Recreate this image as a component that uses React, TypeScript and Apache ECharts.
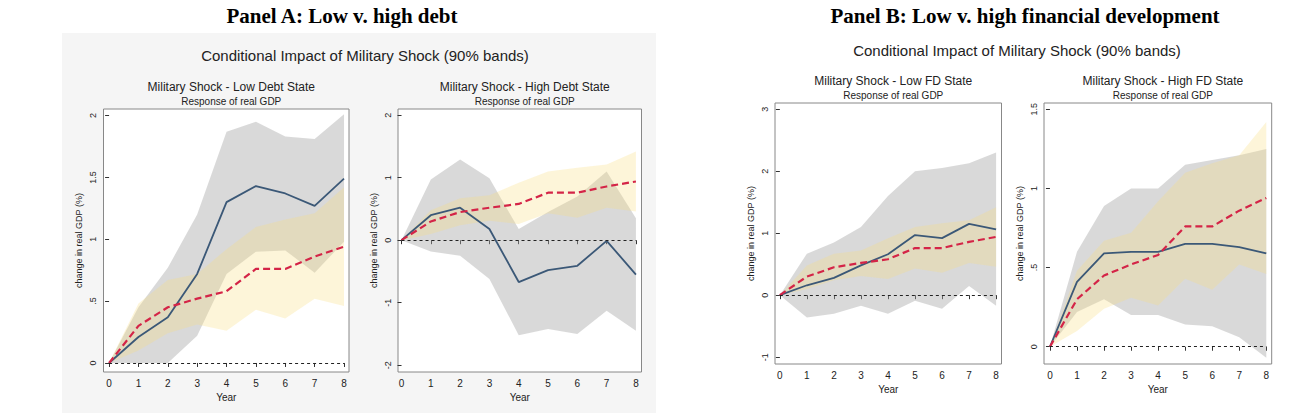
import { useEffect, useRef } from "react";
import * as echarts from "echarts";

const years = [0, 1, 2, 3, 4, 5, 6, 7, 8];

// red dashed line (same in every panel) and its yellow band
const linearResp = [0, 0.3, 0.45, 0.52, 0.58, 0.76, 0.76, 0.86, 0.94];
const linearUpper = [0, 0.48, 0.67, 0.72, 0.92, 1.1, 1.16, 1.21, 1.42];
const linearLower = [0, 0.1, 0.24, 0.31, 0.26, 0.43, 0.36, 0.52, 0.46];

const lowDebtResp = [0, 0.21, 0.37, 0.72, 1.3, 1.43, 1.37, 1.27, 1.49];
const lowDebtUpper = [0, 0.45, 0.77, 1.2, 1.87, 1.95, 1.83, 1.81, 2.01];
const lowDebtLower = [0, 0, 0, 0.22, 0.72, 0.9, 0.91, 0.73, 0.98];

const highDebtResp = [0, 0.4, 0.52, 0.18, -0.67, -0.48, -0.41, -0.01, -0.55];
const highDebtUpper = [0, 0.97, 1.29, 0.99, 0.18, 0.45, 0.7, 1.1, 0.35];
const highDebtLower = [0, -0.18, -0.25, -0.62, -1.52, -1.42, -1.5, -1.13, -1.45];

const lowFdResp = [0, 0.16, 0.28, 0.48, 0.66, 0.97, 0.92, 1.15, 1.06];
const lowFdUpper = [0, 0.67, 0.85, 1.1, 1.6, 2.0, 2.05, 2.13, 2.3];
const lowFdLower = [0, -0.36, -0.3, -0.17, -0.3, -0.09, -0.22, 0.15, -0.17];

const highFdResp = [0, 0.41, 0.59, 0.6, 0.6, 0.65, 0.65, 0.63, 0.59];
const highFdUpper = [0, 0.6, 0.89, 1.0, 1.0, 1.15, 1.18, 1.21, 1.25];
const highFdLower = [0, 0.22, 0.3, 0.2, 0.2, 0.14, 0.13, 0.06, -0.07];

const yTicksA1 = [0, 0.5, 1, 1.5, 2];
const yTicksA2 = [-2, -1, 0, 1, 2];
const yTicksB1 = [-1, 0, 1, 2, 3];
const yTicksB2 = [0, 0.5, 1, 1.5];

const panels = [
  { title: "Military Shock - Low Debt State", resp: lowDebtResp, up: lowDebtUpper, lo: lowDebtLower, ticks: yTicksA1,
    box: [103.5, 109, 349, 372], x: [-0.19, 8.17], y: [-0.073, 2.053] },
  { title: "Military Shock - High Debt State", resp: highDebtResp, up: highDebtUpper, lo: highDebtLower, ticks: yTicksA2,
    box: [398, 109, 641.5, 372], x: [-0.12, 8.19], y: [-2.11, 2.1] },
  { title: "Military Shock - Low FD State", resp: lowFdResp, up: lowFdUpper, lo: lowFdLower, ticks: yTicksB1,
    box: [775, 103, 1001.5, 364], x: [-0.18, 8.2], y: [-1.11, 3.1] },
  { title: "Military Shock - High FD State", resp: highFdResp, up: highFdUpper, lo: highFdLower, ticks: yTicksB2,
    box: [1044, 103, 1271.7, 364], x: [-0.22, 8.2], y: [-0.109, 1.54] },
];

const fmt = (v: number) => {
  const s = String(v);
  return s.startsWith("0.") ? s.slice(1) : s;
};

const font = "Liberation Sans, Arial, sans-serif";

export default function App() {
  const ref = useRef<HTMLDivElement>(null);

  useEffect(() => {
    document.body.style.margin = "0";
    if (!ref.current) return;
    const chart = echarts.init(ref.current, null, { renderer: "svg" });

    const grids: any[] = [];
    const xAxes: any[] = [];
    const yAxes: any[] = [];
    const series: any[] = [];
    const titles: any[] = [
      { text: "Panel A: Low v. high debt", left: 337, top: 0, textAlign: "center",
        textStyle: { fontFamily: "Liberation Serif, Times New Roman, serif", fontSize: 21, fontWeight: "bold", color: "#000" } },
      { text: "Panel B: Low v. high financial development", left: 1020, top: 0, textAlign: "center",
        textStyle: { fontFamily: "Liberation Serif, Times New Roman, serif", fontSize: 21, fontWeight: "bold", color: "#000" } },
      { text: "Conditional Impact of Military Shock (90% bands)", left: 360, top: 43, textAlign: "center",
        textStyle: { fontFamily: font, fontSize: 15, fontWeight: "normal", color: "#222" } },
      { text: "Conditional Impact of Military Shock (90% bands)", left: 1012, top: 38, textAlign: "center",
        textStyle: { fontFamily: font, fontSize: 15, fontWeight: "normal", color: "#222" } },
    ];

    // band as a polygon: upper edge forward, lower edge backward
    const band = (i: number, lo: number[], up: number[], color: string) => {
      const pts = [...years.map((x, k) => [x, up[k]]), ...years.map((x, k) => [x, lo[k]]).reverse()];
      series.push({
        type: "custom", xAxisIndex: i, yAxisIndex: i, silent: true, clip: true,
        data: pts,
        encode: { x: 0, y: 1 },
        renderItem: (params: any, api: any) => {
          if (params.dataIndex !== 0) return null;
          return {
            type: "polygon",
            shape: { points: pts.map((p) => api.coord(p)) },
            style: { fill: color },
          };
        },
      });
    };

    panels.forEach((p, i) => {
      const [l, t, r, b] = p.box;
      grids.push({ left: l, top: t, width: r - l, height: b - t, show: true, borderColor: "#888", borderWidth: 1, backgroundColor: "#fff" });
      titles.push({
        text: p.title, subtext: "Response of real GDP", left: (l + r) / 2, top: t - 33, textAlign: "center", itemGap: 3,
        textStyle: { fontFamily: font, fontSize: 12, fontWeight: "normal", color: "#222" },
        subtextStyle: { fontFamily: font, fontSize: 10, color: "#222" },
      });
      xAxes.push({
        type: "value", gridIndex: i, min: p.x[0], max: p.x[1], name: "Year", nameLocation: "middle", nameGap: 20,
        nameTextStyle: { fontFamily: font, fontSize: 10, color: "#222" },
        splitLine: { show: false },
        axisLine: { show: false },
        axisTick: { show: true, length: 4, customValues: years, lineStyle: { color: "#333" } },
        axisLabel: { customValues: years, fontFamily: font, fontSize: 10, color: "#222", margin: 6 },
      });
      yAxes.push({
        type: "value", gridIndex: i, min: p.y[0], max: p.y[1], name: "change in real GDP (%)", nameLocation: "middle", nameGap: 20,
        nameTextStyle: { fontFamily: font, fontSize: 9, color: "#222" },
        splitLine: { show: false },
        axisLine: { show: false },
        axisTick: { show: true, length: 4, customValues: p.ticks, lineStyle: { color: "#333" } },
        axisLabel: { customValues: p.ticks, rotate: 90, formatter: fmt, fontFamily: font, fontSize: 9, color: "#222", margin: 6 },
      });
      band(i, p.lo, p.up, "rgba(165,165,165,0.42)");
      band(i, linearLower, linearUpper, "rgba(250,222,130,0.3)");
      series.push({
        type: "line", xAxisIndex: i, yAxisIndex: i, symbol: "none", data: years.map((x, k) => [x, p.resp[k]]),
        lineStyle: { color: "#3b5877", width: 1.8 },
      });
      series.push({
        type: "line", xAxisIndex: i, yAxisIndex: i, symbol: "none", data: years.map((x, k) => [x, linearResp[k]]),
        lineStyle: { color: "#d42447", width: 2.2, type: [7, 4] },
        markLine: {
          silent: true, symbol: "none", label: { show: false },
          lineStyle: { color: "#222", type: [3, 3], width: 1.2 },
          data: [[{ coord: [0, 0] }, { coord: [8, 0] }]],
        },
      });
    });

    chart.setOption({
      animation: false,
      backgroundColor: "#fff",
      graphic: [
        { type: "rect", shape: { x: 62, y: 33, width: 594, height: 380 }, style: { fill: "#f5f5f5" }, z: -10 },
      ],
      title: titles,
      grid: grids,
      xAxis: xAxes,
      yAxis: yAxes,
      series,
    });

    return () => chart.dispose();
  }, []);

  return <div ref={ref} style={{ width: 1312, height: 414 }} />;
}
